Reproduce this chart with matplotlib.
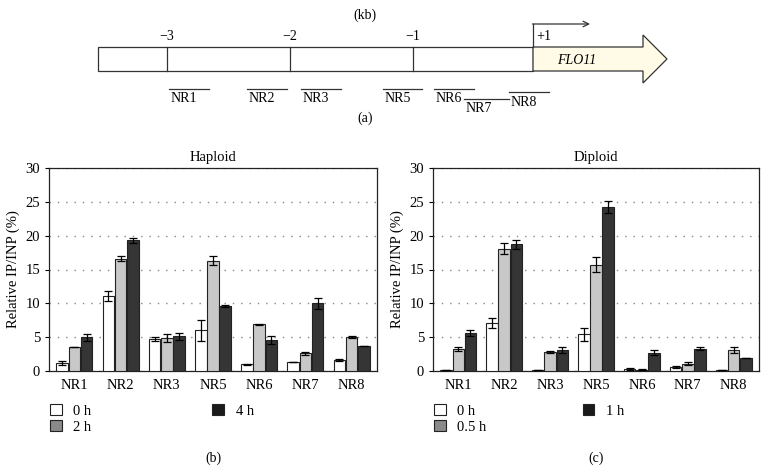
import numpy as np
import matplotlib
matplotlib.use('Agg')
import matplotlib.pyplot as plt
from matplotlib.patches import Polygon, Rectangle, Patch

plt.rcParams['font.family'] = ['Liberation Serif', 'DejaVu Serif']

regions = ['NR1', 'NR2', 'NR3', 'NR5', 'NR6', 'NR7', 'NR8']

# haploid (b)
hap_labels = ['0 h', '2 h', '4 h']
hap_vals = [
    [1.2, 11.1, 4.7, 6.0, 1.0, 1.4, 1.6],
    [3.5, 16.6, 4.9, 16.3, 6.9, 2.6, 5.0],
    [5.0, 19.3, 5.1, 9.6, 4.6, 10.0, 3.7],
]
hap_err = [
    [0.3, 0.7, 0.3, 1.6, 0.05, 0.0, 0.1],
    [0.0, 0.4, 0.6, 0.7, 0.05, 0.2, 0.1],
    [0.5, 0.4, 0.5, 0.2, 0.6, 0.8, 0.0],
]

# diploid (c)
dip_labels = ['0 h', '0.5 h', '1 h']
dip_vals = [
    [0.1, 7.1, 0.1, 5.4, 0.3, 0.6, 0.1],
    [3.3, 18.1, 2.8, 15.7, 0.2, 1.1, 3.1],
    [5.6, 18.7, 3.1, 24.2, 2.7, 3.3, 1.9],
]
dip_err = [
    [0.0, 0.7, 0.0, 1.0, 0.1, 0.1, 0.0],
    [0.3, 0.8, 0.1, 1.1, 0.05, 0.2, 0.4],
    [0.5, 0.6, 0.5, 0.9, 0.4, 0.2, 0.0],
]

# promoter map (a), in figure pixels
kb_labels = ['\u22123', '\u22122', '\u22121']
kb_pos = [167, 290, 413]
probe_names = ['NR1', 'NR2', 'NR3', 'NR5', 'NR6', 'NR7', 'NR8']
probe_x0 = [169, 247, 301, 383, 434, 464, 509]
probe_x1 = [209, 287, 341, 422, 474, 509, 549]
probe_y = [89, 89, 89, 89, 89, 99, 92]

bar_colors = ['white', '#c8c8c8', '#353535']
legend_colors = ['white', '#8a8a8a', '#1a1a1a']

fig = plt.figure(figsize=(7.68, 4.72), dpi=100)

# ---- panel (a) ----
ax0 = fig.add_axes([0, 0, 1, 1])
ax0.set_xlim(0, 768)
ax0.set_ylim(472, 0)
ax0.axis('off')
ec = '#333333'
ax0.add_patch(Rectangle((98, 47), 533 - 98, 24, fc='white', ec=ec, lw=0.9))
ax0.add_patch(Polygon([(533, 47), (643, 47), (643, 35), (667, 59), (643, 83),
                       (643, 71), (533, 71)], closed=True, fc='#fffbe6', ec=ec, lw=0.9))
for x, lab in zip(kb_pos, kb_labels):
    ax0.plot([x, x], [47, 71], color=ec, lw=0.9)
    ax0.text(x, 37, lab, ha='center', va='center', fontsize=10)
ax0.plot([533, 533], [24, 47], color=ec, lw=0.9)
ax0.annotate('', xy=(590, 24), xytext=(532.5, 24),
             arrowprops=dict(arrowstyle='->', color=ec, lw=0.9, shrinkA=0, shrinkB=0))
ax0.text(536, 37, '+1', ha='left', va='center', fontsize=10)
ax0.text(577, 60, 'FLO11', ha='center', va='center', fontsize=10, style='italic')
ax0.text(365, 15, '(kb)', ha='center', va='center', fontsize=10)
for name, x0, x1, y in zip(probe_names, probe_x0, probe_x1, probe_y):
    ax0.plot([x0, x1], [y, y], color=ec, lw=0.9)
    ax0.text(x0 + 2, y + 10, name, ha='left', va='center', fontsize=10)
ax0.text(365, 118, '(a)', ha='center', va='center', fontsize=10)


def bar_panel(rect, title, vals, errs, labels, tag, leg_x, colspace):
    ax = fig.add_axes(rect)
    x = np.arange(len(regions))
    w = 0.25
    for i in range(3):
        ax.bar(x + (i - 1) * 0.265, vals[i], w, color=bar_colors[i], edgecolor='#222222',
               linewidth=0.8, zorder=3,
               yerr=errs[i], capsize=3.2, error_kw=dict(elinewidth=0.9, capthick=0.9, ecolor='black'))
    ax.set_xlim(-0.55, len(regions) - 0.45)
    ax.set_ylim(0, 30)
    ax.set_yticks(range(0, 31, 5))
    ax.set_xticks(x)
    ax.set_xticklabels(regions, fontsize=10.5)
    ax.tick_params(axis='x', length=0, pad=6)
    ax.tick_params(axis='y', labelsize=10.5, length=3, width=0.8)
    ax.yaxis.grid(True, linestyle=(0, (1, 5)), color='#888888', linewidth=1.0, zorder=0)
    ax.set_axisbelow(True)
    for s in ax.spines.values():
        s.set_linewidth(0.9)
        s.set_color('#222222')
    ax.set_ylabel('Relative IP/INP (%)', fontsize=10.5, labelpad=4)
    ax.set_title(title, fontsize=10.5, pad=5)
    handles = [Patch(fc=legend_colors[i], ec='#222222', lw=0.8) for i in range(3)]
    ax.legend(handles, labels, ncol=2, frameon=False, fontsize=10.5,
              loc='upper left', bbox_to_anchor=(leg_x, -0.135),
              handlelength=0.8, handleheight=0.8, handletextpad=0.8,
              columnspacing=colspace, labelspacing=0.15, borderaxespad=0)
    ax.text(0.5, -0.43, tag, transform=ax.transAxes, ha='center', va='center', fontsize=10)
    return ax


bar_panel([49 / 768, 1 - 371 / 472, 328 / 768, 203 / 472], 'Haploid',
          hap_vals, hap_err, hap_labels, '(b)', -0.015, 8.3)
bar_panel([433 / 768, 1 - 371 / 472, 326 / 768, 203 / 472], 'Diploid',
          dip_vals, dip_err, dip_labels, '(c)', -0.015, 6.6)

fig.savefig('out.png', dpi=100)
